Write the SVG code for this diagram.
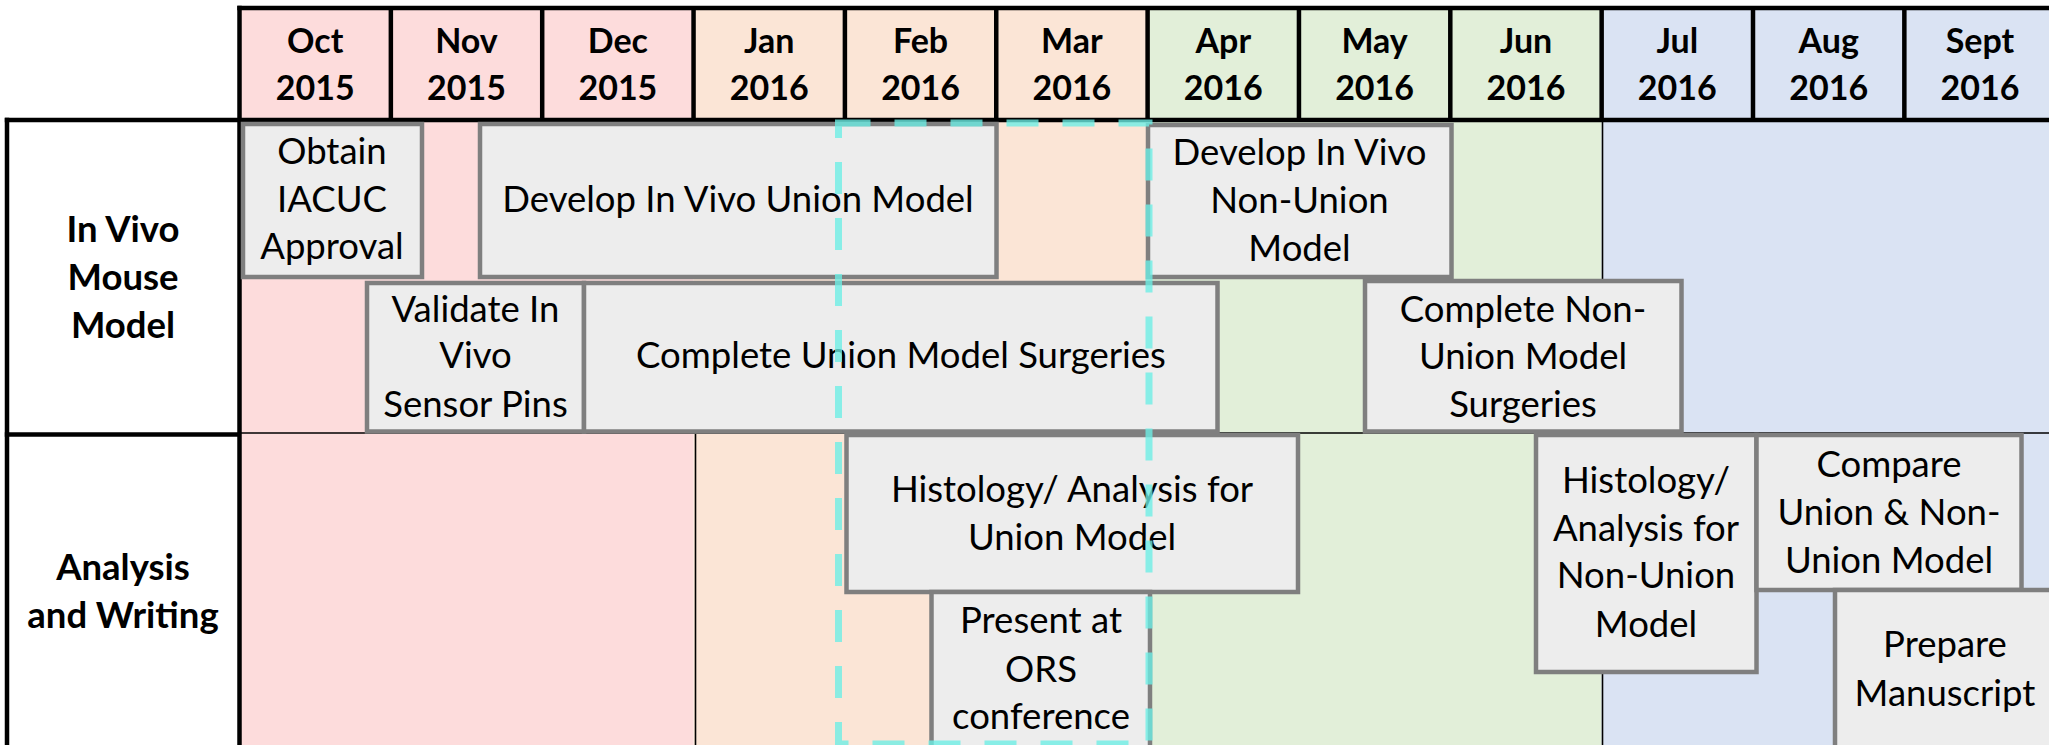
<svg xmlns="http://www.w3.org/2000/svg" width="2049" height="745" viewBox="0 0 2049 745">
  <style>
    text { font-family: Lato, "Liberation Sans", sans-serif; font-size: 36.5px; fill: #000; text-anchor: middle; }
    .hdr text { font-weight: bold; font-size: 34px; }
    .lbl text { font-weight: bold; font-size: 36.5px; }
    .task rect { fill: #ededed; stroke: #7f7f7f; stroke-width: 4.5; }
    .thick { stroke: #000; stroke-width: 4.5; fill: none; }
    .thin { stroke: #000; stroke-width: 1.6; fill: none; }
    .hl { fill: none; stroke: #6ceee6; stroke-opacity: 0.78; stroke-width: 7; stroke-dasharray: 32 24; }
  </style>

  <!-- quarter colour bands -->
  <g id="bands">
    <rect x="239.5" y="8" width="454.05" height="737" fill="#fddcdc"/>
    <rect x="693.55" y="8" width="454.05" height="737" fill="#fbe5d6"/>
    <rect x="1147.6" y="8" width="454.05" height="737" fill="#e2efd9"/>
    <rect x="1601.65" y="8" width="460" height="737" fill="#dae3f3"/>
  </g>

  <!-- table rules -->
  <g id="grid">
    <line class="thin" x1="239.5" y1="433" x2="2049" y2="433"/>
    <line class="thin" x1="695.5" y1="434" x2="695.5" y2="745"/>
    <line class="thin" x1="1602.5" y1="120" x2="1602.5" y2="745"/>

    <line class="thick" x1="237.3" y1="8" x2="2049" y2="8"/>
    <line class="thick" x1="4.8" y1="120" x2="2049" y2="120"/>
    <line class="thick" x1="239.5" y1="5.8" x2="239.5" y2="745"/>
    <line class="thick" x1="7" y1="117.8" x2="7" y2="745"/>
    <line class="thick" x1="4.8" y1="434.5" x2="239.5" y2="434.5"/>
    <g class="thick">
      <line x1="390.85" y1="8" x2="390.85" y2="120"/>
      <line x1="542.2" y1="8" x2="542.2" y2="120"/>
      <line x1="693.55" y1="8" x2="693.55" y2="120"/>
      <line x1="844.9" y1="8" x2="844.9" y2="120"/>
      <line x1="996.25" y1="8" x2="996.25" y2="120"/>
      <line x1="1147.6" y1="8" x2="1147.6" y2="120"/>
      <line x1="1298.95" y1="8" x2="1298.95" y2="120"/>
      <line x1="1450.3" y1="8" x2="1450.3" y2="120"/>
      <line x1="1601.65" y1="8" x2="1601.65" y2="120"/>
      <line x1="1753" y1="8" x2="1753" y2="120"/>
      <line x1="1904.35" y1="8" x2="1904.35" y2="120"/>
    </g>
  </g>

  <!-- month headings -->
  <g id="months" class="hdr">
    <text x="315.2" y="52.5">Oct</text><text x="315.2" y="100">2015</text>
    <text x="466.5" y="52.5">Nov</text><text x="466.5" y="100">2015</text>
    <text x="617.9" y="52.5">Dec</text><text x="617.9" y="100">2015</text>
    <text x="769.2" y="52.5">Jan</text><text x="769.2" y="100">2016</text>
    <text x="920.6" y="52.5">Feb</text><text x="920.6" y="100">2016</text>
    <text x="1071.9" y="52.5">Mar</text><text x="1071.9" y="100">2016</text>
    <text x="1223.3" y="52.5">Apr</text><text x="1223.3" y="100">2016</text>
    <text x="1374.6" y="52.5">May</text><text x="1374.6" y="100">2016</text>
    <text x="1526" y="52.5">Jun</text><text x="1526" y="100">2016</text>
    <text x="1677.3" y="52.5">Jul</text><text x="1677.3" y="100">2016</text>
    <text x="1828.7" y="52.5">Aug</text><text x="1828.7" y="100">2016</text>
    <text x="1980" y="52.5">Sept</text><text x="1980" y="100">2016</text>
  </g>

  <!-- row labels -->
  <g id="row-invivo" class="lbl">
    <text x="123" y="242">In Vivo</text>
    <text x="123" y="290">Mouse</text>
    <text x="123" y="338">Model</text>
  </g>
  <g id="row-analysis" class="lbl">
    <text x="123" y="580">Analysis</text>
    <text x="123" y="628">and Writing</text>
  </g>

  <!-- tasks -->
  <g id="task-iacuc" class="task">
    <rect x="243" y="124" width="179" height="153"/>
    <text x="332" y="164">Obtain</text>
    <text x="332" y="212">IACUC</text>
    <text x="332" y="259">Approval</text>
  </g>
  <g id="task-develop-union" class="task">
    <rect x="480" y="124" width="516.5" height="153"/>
    <text x="738" y="212">Develop In Vivo Union Model</text>
  </g>
  <g id="task-develop-nonunion" class="task">
    <rect x="1148" y="125" width="303.5" height="152"/>
    <text x="1299.5" y="165">Develop In Vivo</text>
    <text x="1299.5" y="213">Non-Union</text>
    <text x="1299.5" y="261">Model</text>
  </g>
  <g id="task-validate" class="task">
    <rect x="367" y="283" width="217" height="148.5"/>
    <text x="475.5" y="322">Validate In</text>
    <text x="475.5" y="368">Vivo</text>
    <text x="475.5" y="417">Sensor Pins</text>
  </g>
  <g id="task-surgeries-union" class="task">
    <rect x="584" y="283" width="633.5" height="148.5"/>
    <text x="901" y="368">Complete Union Model Surgeries</text>
  </g>
  <g id="task-surgeries-nonunion" class="task">
    <rect x="1365" y="281" width="316.5" height="150.5"/>
    <text x="1523" y="322">Complete Non-</text>
    <text x="1523" y="369">Union Model</text>
    <text x="1523" y="417">Surgeries</text>
  </g>
  <g id="task-histology-union" class="task">
    <rect x="846.5" y="435" width="451.5" height="157"/>
    <text x="1072" y="502">Histology/ Analysis for</text>
    <text x="1072" y="550">Union Model</text>
  </g>
  <g id="task-ors" class="task">
    <rect x="931.5" y="592" width="218.5" height="200"/>
    <text x="1041" y="633">Present at</text>
    <text x="1041" y="682">ORS</text>
    <text x="1041" y="729">conference</text>
  </g>
  <g id="task-histology-nonunion" class="task">
    <rect x="1536" y="435" width="220.5" height="237"/>
    <text x="1646" y="493">Histology/</text>
    <text x="1646" y="541">Analysis for</text>
    <text x="1646" y="588">Non-Union</text>
    <text x="1646" y="637">Model</text>
  </g>
  <g id="task-compare" class="task">
    <rect x="1756.5" y="435" width="265" height="155"/>
    <text x="1889" y="477">Compare</text>
    <text x="1889" y="525">Union &amp; Non-</text>
    <text x="1889" y="573">Union Model</text>
  </g>
  <g id="task-manuscript" class="task">
    <rect x="1835" y="590" width="260" height="200"/>
    <text x="1945" y="657">Prepare</text>
    <text x="1945" y="706">Manuscript</text>
  </g>

  <!-- highlighted window -->
  <g id="connectors">
    <rect id="focus-window" class="hl" x="838.5" y="123" width="310.5" height="621"/>
  </g>
</svg>
